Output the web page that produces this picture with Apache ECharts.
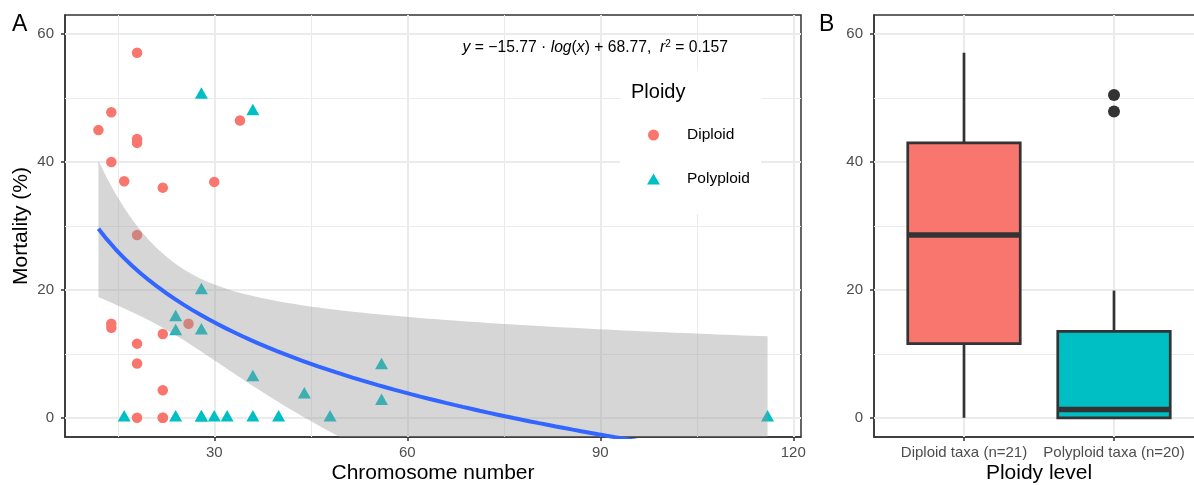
<!DOCTYPE html>
<html><head><meta charset="utf-8">
<script src="https://cdn.jsdelivr.net/npm/echarts@6/dist/echarts.min.js"></script>
<style>html,body{margin:0;padding:0;background:#fff}#c{width:1194px;height:485px}</style>
</head><body><div id="c"></div>
<script>
// ---- data ----
const diploidChrom = [18, 12, 14, 14, 16, 18, 18, 22, 30, 34, 18, 14, 14, 26, 22, 18, 18, 22, 18, 22, 22];
const diploidMort  = [57.1, 45.0, 47.8, 40.0, 37.0, 43.6, 43.0, 36.0, 36.9, 46.5, 28.6, 14.7, 14.1, 14.7, 13.1, 11.6, 8.5, 4.3, 0, 0, 0];
const polyChrom = [28, 36, 28, 24, 24, 28, 36, 56, 56, 44, 16, 24, 28, 28, 30, 32, 36, 40, 48, 116];
const polyMort  = [50.5, 47.9, 19.9, 15.7, 13.5, 13.6, 6.3, 8.2, 2.6, 3.6, 0, 0, 0, 0, 0, 0, 0, 0, 0, 0];
const xTicks = [30, 60, 90, 120];
const xMinor = [15, 45, 75, 105];
const yTicks = [0, 20, 40, 60];
const yMinor = [10, 30, 50];
const boxLabels = ['Diploid taxa (n=21)', 'Polyploid taxa (n=20)'];
const boxPositions = [1, 2];
const eqLabel = '{i|y} = \u221215.77 \u00b7 {i|log}({i|x}) + 68.77,  {i|r}{s|2} = 0.157';

// ---- styles ----
const COL_D = '#F8766D', COL_P = '#00BFC4';
const boxColors = [COL_D, COL_P];
const FONT = 'Liberation Sans, Arial, Helvetica, sans-serif';
const GRIDCOL = '#EBEBEB';

// ---- lm(mortality ~ log(chromosome)) like geom_smooth ----
const allX = diploidChrom.concat(polyChrom);
const allY = diploidMort.concat(polyMort);
const n = allX.length;
const L = allX.map(Math.log);
const mL = L.reduce((a, b) => a + b, 0) / n;
const mY = allY.reduce((a, b) => a + b, 0) / n;
let Sxx = 0, Sxy = 0;
for (let i = 0; i < n; i++) { Sxx += (L[i] - mL) ** 2; Sxy += (L[i] - mL) * (allY[i] - mY); }
const slope = Sxy / Sxx, intercept = mY - slope * mL;
let SSE = 0;
for (let i = 0; i < n; i++) SSE += (allY[i] - intercept - slope * L[i]) ** 2;
const sRes = Math.sqrt(SSE / (n - 2));
const tCrit = 2.0227; // t(0.975, df = 39)
const xMin = Math.min(...allX), xMax = Math.max(...allX);
const fitX = [], fitY = [], fitLo = [], fitHi = [];
for (let k = 0; k < 80; k++) {
  const x = xMin + (xMax - xMin) * k / 79;
  const lx = Math.log(x);
  const yh = intercept + slope * lx;
  const se = sRes * Math.sqrt(1 / n + (lx - mL) ** 2 / Sxx);
  fitX.push(x); fitY.push(yh); fitLo.push(yh - tCrit * se); fitHi.push(yh + tCrit * se);
}

// ---- box statistics (ggplot: type-7 quantiles, 1.5 IQR whiskers) ----
function quant(s, p) { const h = (s.length - 1) * p, lo = Math.floor(h); const hi = Math.min(lo + 1, s.length - 1); return s[lo] + (h - lo) * (s[hi] - s[lo]); }
const groups = [diploidMort, polyMort];
const boxData = [], outliers = [];
groups.forEach((g, gi) => {
  const s = g.slice().sort((a, b) => a - b);
  const q1 = quant(s, 0.25), md = quant(s, 0.5), q3 = quant(s, 0.75), iqr = q3 - q1;
  const inside = s.filter(v => v >= q1 - 1.5 * iqr && v <= q3 + 1.5 * iqr);
  boxData.push([boxPositions[gi], Math.min(...inside), q1, md, q3, Math.max(...inside)]);
  s.filter(v => v < q1 - 1.5 * iqr || v > q3 + 1.5 * iqr).forEach(v => outliers.push([boxPositions[gi], v]));
});

function gridLines(xMaj, xMin_, yMaj, yMin_) {
  const d = [];
  xMin_.forEach(v => d.push({ xAxis: v, lineStyle: { width: 1 } }));
  yMin_.forEach(v => d.push({ yAxis: v, lineStyle: { width: 1 } }));
  xMaj.forEach(v => d.push({ xAxis: v, lineStyle: { width: 2 } }));
  yMaj.forEach(v => d.push({ yAxis: v, lineStyle: { width: 2 } }));
  return { silent: true, z: 1, symbol: ['none', 'none'], label: { show: false }, animation: false,
    lineStyle: { color: GRIDCOL, type: 'solid' }, emphasis: { disabled: true }, data: d };
}

const tickStyle = { show: true, length: 4, inside: false, lineStyle: { color: '#333333', width: 1.5 } };
const labStyle = { fontSize: 15, color: '#4D4D4D', fontFamily: FONT };
const nameStyle = { fontSize: 21, color: '#000', fontFamily: FONT };
const axLine = { show: true, onZero: false, lineStyle: { color: '#333333', width: 1.5 } };

const chart = echarts.init(document.getElementById('c'));
chart.setOption({
  animation: false,
  backgroundColor: '#fff',
  textStyle: { fontFamily: FONT },
  grid: [
    { left: 65, top: 15, width: 736, height: 422, outerBoundsMode: 'none', containLabel: false, show: true, backgroundColor: '#fff', borderColor: '#333333', borderWidth: 1.5 },
    { left: 874, top: 15, width: 330, height: 422, outerBoundsMode: 'none', containLabel: false, show: true, backgroundColor: '#fff', borderColor: '#333333', borderWidth: 1.5 }
  ],
  xAxis: [
    { type: 'value', gridIndex: 0, min: 6.8, max: 121.2, axisLine: axLine,
      axisTick: Object.assign({ customValues: xTicks }, tickStyle),
      axisLabel: Object.assign({ customValues: xTicks, margin: 8 }, labStyle),
      splitLine: { show: false }, minorSplitLine: { show: false },
      name: 'Chromosome number', nameLocation: 'middle', nameGap: 26, nameMoveOverlap: false, nameTextStyle: nameStyle },
    { type: 'value', gridIndex: 1, min: 0.4, max: 2.6, axisLine: axLine,
      axisTick: Object.assign({ customValues: boxPositions }, tickStyle),
      axisLabel: Object.assign({ customValues: boxPositions, margin: 8, formatter: v => boxLabels[Math.round(v) - 1] }, labStyle),
      splitLine: { show: false },
      name: 'Ploidy level', nameLocation: 'middle', nameGap: 26, nameMoveOverlap: false, nameTextStyle: nameStyle }
  ],
  yAxis: [
    { type: 'value', gridIndex: 0, min: -3, max: 63, axisLine: axLine,
      axisTick: Object.assign({ customValues: yTicks }, tickStyle),
      axisLabel: Object.assign({ customValues: yTicks, margin: 11 }, labStyle),
      splitLine: { show: false },
      name: 'Mortality (%)', nameLocation: 'middle', nameGap: 33, nameMoveOverlap: false, nameRotate: 90, nameTextStyle: nameStyle },
    { type: 'value', gridIndex: 1, min: -3, max: 63, axisLine: axLine,
      axisTick: Object.assign({ customValues: yTicks }, tickStyle),
      axisLabel: Object.assign({ customValues: yTicks, margin: 11 }, labStyle),
      splitLine: { show: false } }
  ],
  legend: {
    data: ['Diploid', 'Polyploid'], orient: 'vertical', left: 647, top: 126, padding: 0,
    itemWidth: 13, itemHeight: 11, itemGap: 26, selectedMode: false, z: 20,
    textStyle: { fontSize: 15.5, color: '#000', fontFamily: FONT, lineHeight: 18, padding: [0, 0, 0, 22] }
  },
  graphic: [
    { type: 'rect', shape: { x: 620, y: 70, width: 141, height: 144 }, style: { fill: '#fff' }, z: 10, silent: true },
    { type: 'text', x: 631, y: 92, z: 11, style: { text: 'Ploidy', fontSize: 20, fontFamily: FONT, fill: '#000', verticalAlign: 'middle' } },
    { type: 'text', x: 12, y: 25, z: 11, style: { text: 'A', fontSize: 23, fontFamily: FONT, fill: '#000', verticalAlign: 'middle' } },
    { type: 'text', x: 819, y: 25, z: 11, style: { text: 'B', fontSize: 23, fontFamily: FONT, fill: '#000', verticalAlign: 'middle' } },
    { type: 'text', x: 728, y: 48, z: 11, style: {
      text: eqLabel, fontSize: 15.7, fontFamily: FONT, fill: '#000', align: 'right', verticalAlign: 'middle',
      rich: {
        i: { fontStyle: 'italic', fontSize: 15.7, fontFamily: FONT, fill: '#000' },
        s: { fontSize: 10, fontFamily: FONT, fill: '#000', verticalAlign: 'top', lineHeight: 18 }
      } } }
  ],
  series: [
    { name: 'gridA', type: 'scatter', xAxisIndex: 0, yAxisIndex: 0, data: [], z: 1, silent: true,
      markLine: gridLines(xTicks, xMinor, yTicks, yMinor) },
    { name: 'Diploid', type: 'scatter', xAxisIndex: 0, yAxisIndex: 0, z: 3,
      data: diploidChrom.map((x, i) => [x, diploidMort[i]]),
      symbol: 'circle', symbolSize: 10.5, itemStyle: { color: COL_D, opacity: 1 } },
    { name: 'Polyploid', type: 'scatter', xAxisIndex: 0, yAxisIndex: 0, z: 3,
      data: polyChrom.map((x, i) => [x, polyMort[i]]),
      symbol: 'triangle', symbolSize: [13, 11.5], symbolOffset: [0, -2], itemStyle: { color: COL_P, opacity: 1 } },
    { name: 'ribbon', type: 'custom', xAxisIndex: 0, yAxisIndex: 0, z: 4, clip: true, silent: true,
      data: [[fitX[0], fitY[0]]],
      renderItem: function (params, api) {
        const pts = [];
        for (let k = 0; k < fitX.length; k++) pts.push(api.coord([fitX[k], fitHi[k]]));
        for (let k = fitX.length - 1; k >= 0; k--) pts.push(api.coord([fitX[k], fitLo[k]]));
        return { type: 'polygon', shape: { points: pts }, style: { fill: 'rgba(153,153,153,0.4)' } };
      } },
    { name: 'fit', type: 'line', xAxisIndex: 0, yAxisIndex: 0, z: 5, clip: true, silent: true,
      data: fitX.map((x, k) => [x, fitY[k]]), showSymbol: false, symbol: 'none',
      lineStyle: { color: '#3366FF', width: 4 } },
    { name: 'gridB', type: 'scatter', xAxisIndex: 1, yAxisIndex: 1, data: [], z: 1, silent: true,
      markLine: gridLines(boxPositions, [], yTicks, yMinor) },
    { name: 'boxes', type: 'custom', xAxisIndex: 1, yAxisIndex: 1, z: 3, silent: true,
      data: boxData,
      encode: { x: 0, y: [1, 2, 3, 4, 5] },
      renderItem: function (params, api) {
        const x = api.value(0);
        const half = api.size([0.75, 0])[0] / 2;
        const pLw = api.coord([x, api.value(1)]), pQ1 = api.coord([x, api.value(2)]);
        const pMd = api.coord([x, api.value(3)]), pQ3 = api.coord([x, api.value(4)]);
        const pHw = api.coord([x, api.value(5)]);
        const st = { stroke: '#333333', lineWidth: 2.7 };
        return { type: 'group', children: [
          { type: 'line', shape: { x1: pQ3[0], y1: pQ3[1], x2: pHw[0], y2: pHw[1] }, style: st },
          { type: 'line', shape: { x1: pQ1[0], y1: pQ1[1], x2: pLw[0], y2: pLw[1] }, style: st },
          { type: 'rect', shape: { x: pQ3[0] - half, y: pQ3[1], width: 2 * half, height: pQ1[1] - pQ3[1] },
            style: { fill: boxColors[params.dataIndex], stroke: '#333333', lineWidth: 2.7 } },
          { type: 'line', shape: { x1: pMd[0] - half, y1: pMd[1], x2: pMd[0] + half, y2: pMd[1] },
            style: { stroke: '#333333', lineWidth: 5.5 } }
        ] };
      } },
    { name: 'outliers', type: 'scatter', xAxisIndex: 1, yAxisIndex: 1, z: 4, silent: true,
      data: outliers, symbol: 'circle', symbolSize: 12, itemStyle: { color: '#333333', opacity: 1 } }
  ]
});
</script></body></html>
